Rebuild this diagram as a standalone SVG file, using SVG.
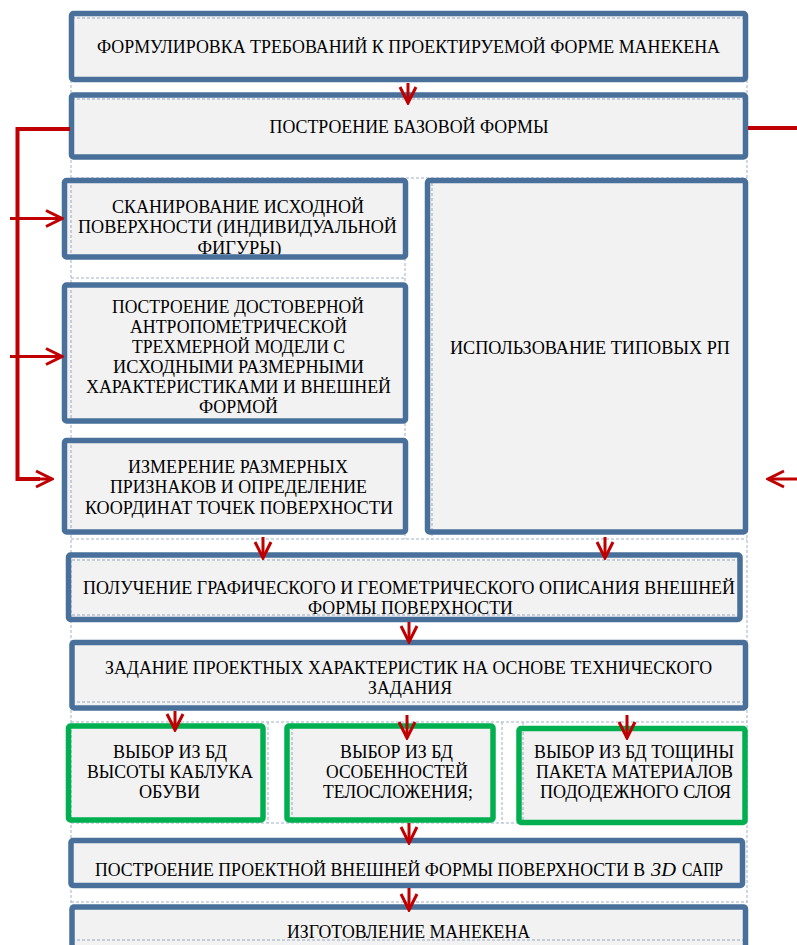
<svg xmlns="http://www.w3.org/2000/svg" width="797" height="945" viewBox="0 0 797 945">
<style>
.grid line{stroke:#9fb2c9;stroke-width:1;stroke-dasharray:3 2;fill:none}
.bf{fill:#000;fill-opacity:0.051}
.bb{fill:none;stroke:#48709a;stroke-width:5.5}
.gb{fill:none;stroke:#00b050;stroke-width:5.5}
text{font-family:"Liberation Serif","Times New Roman",serif;font-size:18px;fill:#000;text-anchor:middle}
.conn path{fill:none;stroke:#c00000}
.ln{stroke-width:4}
.ar{stroke-width:3}
</style>
<defs>
<marker id="ah" viewBox="0 0 20 20" refX="18" refY="10" markerWidth="20" markerHeight="20" markerUnits="userSpaceOnUse" orient="auto">
<path d="M2,2 L18,10 L2,18" fill="none" stroke="#c00000" stroke-width="3" stroke-linejoin="miter"/>
</marker>
</defs>
<rect x="0" y="0" width="797" height="945" fill="#fff"/>
<g class="grid">
<line x1="71" y1="15" x2="71" y2="945"/>
<line x1="747" y1="15" x2="747" y2="945"/>
<line x1="72" y1="18" x2="745" y2="18"/>
<line x1="72" y1="99" x2="745" y2="99"/>
<line x1="71" y1="178" x2="747" y2="178"/>
<line x1="71" y1="278" x2="405" y2="278"/>
<line x1="405" y1="178" x2="405" y2="539"/>
<line x1="432" y1="178" x2="432" y2="539"/>
<line x1="71" y1="539" x2="747" y2="539"/>
<line x1="72" y1="560" x2="740" y2="560"/>
<line x1="72" y1="615" x2="740" y2="615"/>
<line x1="72" y1="702" x2="745" y2="702"/>
<line x1="71" y1="722" x2="747" y2="722"/>
<line x1="71" y1="823" x2="747" y2="823"/>
<line x1="268" y1="722" x2="268" y2="823"/>
<line x1="292" y1="722" x2="292" y2="823"/>
<line x1="502" y1="722" x2="502" y2="823"/>
<line x1="523" y1="722" x2="523" y2="823"/>
<line x1="71" y1="902" x2="747" y2="902"/>
<line x1="72" y1="940" x2="745" y2="940"/>
</g>
<g id="n1">
<rect class="bf" x="71.5" y="13.5" width="674" height="66" rx="2"/>
<rect class="bb" x="71.5" y="13.5" width="674" height="66" rx="2"/>
<text x="408.5" y="53" textLength="623" lengthAdjust="spacingAndGlyphs">ФОРМУЛИРОВКА ТРЕБОВАНИЙ К ПРОЕКТИРУЕМОЙ ФОРМЕ МАНЕКЕНА</text>
</g>
<g id="n2">
<rect class="bf" x="71.5" y="95" width="674" height="62" rx="2"/>
<rect class="bb" x="71.5" y="95" width="674" height="62" rx="2"/>
<text x="409" y="133" textLength="279" lengthAdjust="spacingAndGlyphs">ПОСТРОЕНИЕ БАЗОВОЙ ФОРМЫ</text>
</g>
<g id="n3">
<rect class="bf" x="64.5" y="180.5" width="341" height="76.5" rx="2"/>
<text x="238" y="213" textLength="252" lengthAdjust="spacingAndGlyphs">СКАНИРОВАНИЕ ИСХОДНОЙ</text>
<text x="237.5" y="233" textLength="319" lengthAdjust="spacingAndGlyphs">ПОВЕРХНОСТИ (ИНДИВИДУАЛЬНОЙ</text>
<text x="239.5" y="254" textLength="84" lengthAdjust="spacingAndGlyphs">ФИГУРЫ)</text>
<rect class="bb" x="64.5" y="180.5" width="341" height="76.5" rx="2"/>
</g>
<g id="n4">
<rect class="bf" x="64.5" y="285" width="341" height="136" rx="2"/>
<rect class="bb" x="64.5" y="285" width="341" height="136" rx="2"/>
<text x="238" y="313" textLength="252" lengthAdjust="spacingAndGlyphs">ПОСТРОЕНИЕ ДОСТОВЕРНОЙ</text>
<text x="238.5" y="333" textLength="217" lengthAdjust="spacingAndGlyphs">АНТРОПОМЕТРИЧЕСКОЙ</text>
<text x="238.5" y="353" textLength="213" lengthAdjust="spacingAndGlyphs">ТРЕХМЕРНОЙ МОДЕЛИ С</text>
<text x="238.5" y="373" textLength="251" lengthAdjust="spacingAndGlyphs">ИСХОДНЫМИ РАЗМЕРНЫМИ</text>
<text x="238.5" y="393" textLength="305" lengthAdjust="spacingAndGlyphs">ХАРАКТЕРИСТИКАМИ И ВНЕШНЕЙ</text>
<text x="238.5" y="413" textLength="79" lengthAdjust="spacingAndGlyphs">ФОРМОЙ</text>
</g>
<g id="n5">
<rect class="bf" x="64.5" y="440.5" width="341" height="91.5" rx="2"/>
<rect class="bb" x="64.5" y="440.5" width="341" height="91.5" rx="2"/>
<text x="238" y="473" textLength="220" lengthAdjust="spacingAndGlyphs">ИЗМЕРЕНИЕ РАЗМЕРНЫХ</text>
<text x="238.5" y="493" textLength="257" lengthAdjust="spacingAndGlyphs">ПРИЗНАКОВ И ОПРЕДЕЛЕНИЕ</text>
<text x="239" y="514" textLength="308" lengthAdjust="spacingAndGlyphs">КООРДИНАТ ТОЧЕК ПОВЕРХНОСТИ</text>
</g>
<g id="n6">
<rect class="bf" x="427.5" y="180.5" width="318" height="351.5" rx="2"/>
<rect class="bb" x="427.5" y="180.5" width="318" height="351.5" rx="2"/>
<text x="590" y="354" textLength="280" lengthAdjust="spacingAndGlyphs">ИСПОЛЬЗОВАНИЕ ТИПОВЫХ РП</text>
</g>
<g id="n7">
<rect class="bf" x="68.5" y="555" width="671.5" height="64.5" rx="2"/>
<rect class="bb" x="68.5" y="555" width="671.5" height="64.5" rx="2"/>
<text x="409" y="594" textLength="652" lengthAdjust="spacingAndGlyphs">ПОЛУЧЕНИЕ ГРАФИЧЕСКОГО И ГЕОМЕТРИЧЕСКОГО ОПИСАНИЯ ВНЕШНЕЙ</text>
<text x="410.5" y="614" textLength="205" lengthAdjust="spacingAndGlyphs">ФОРМЫ ПОВЕРХНОСТИ</text>
</g>
<g id="n8">
<rect class="bf" x="72" y="642.5" width="673.5" height="65.5" rx="2"/>
<rect class="bb" x="72" y="642.5" width="673.5" height="65.5" rx="2"/>
<text x="408.5" y="674" textLength="607" lengthAdjust="spacingAndGlyphs">ЗАДАНИЕ ПРОЕКТНЫХ ХАРАКТЕРИСТИК НА ОСНОВЕ ТЕХНИЧЕСКОГО</text>
<text x="410" y="694" textLength="84" lengthAdjust="spacingAndGlyphs">ЗАДАНИЯ</text>
</g>
<g id="n9">
<rect class="bf" x="68.5" y="726" width="194.5" height="94" rx="2"/>
<rect class="gb" x="68.5" y="726" width="194.5" height="94" rx="2"/>
<text x="170" y="758" textLength="114" lengthAdjust="spacingAndGlyphs">ВЫБОР ИЗ БД</text>
<text x="170" y="778" textLength="166" lengthAdjust="spacingAndGlyphs">ВЫСОТЫ КАБЛУКА</text>
<text x="169.5" y="798" textLength="61" lengthAdjust="spacingAndGlyphs">ОБУВИ</text>
</g>
<g id="n10">
<rect class="bf" x="287" y="726" width="206" height="94" rx="2"/>
<rect class="gb" x="287" y="726" width="206" height="94" rx="2"/>
<text x="396.5" y="758" textLength="113" lengthAdjust="spacingAndGlyphs">ВЫБОР ИЗ БД</text>
<text x="397" y="778" textLength="142" lengthAdjust="spacingAndGlyphs">ОСОБЕННОСТЕЙ</text>
<text x="398" y="798" textLength="150" lengthAdjust="spacingAndGlyphs">ТЕЛОСЛОЖЕНИЯ;</text>
</g>
<g id="n11">
<rect class="bf" x="519" y="728.5" width="226" height="94" rx="2"/>
<rect class="gb" x="519" y="728.5" width="226" height="94" rx="2"/>
<text x="634" y="758" textLength="200" lengthAdjust="spacingAndGlyphs">ВЫБОР ИЗ БД ТОЩИНЫ</text>
<text x="634.5" y="778" textLength="197" lengthAdjust="spacingAndGlyphs">ПАКЕТА МАТЕРИАЛОВ</text>
<text x="635.5" y="798" textLength="191" lengthAdjust="spacingAndGlyphs">ПОДОДЕЖНОГО СЛОЯ</text>
</g>
<g id="n12">
<rect class="bf" x="71" y="840.5" width="671.5" height="45" rx="2"/>
<rect class="bb" x="71" y="840.5" width="671.5" height="45" rx="2"/>
<text x="95" y="876" style="text-anchor:start" textLength="550" lengthAdjust="spacingAndGlyphs">ПОСТРОЕНИЕ ПРОЕКТНОЙ ВНЕШНЕЙ ФОРМЫ ПОВЕРХНОСТИ В</text>
<text x="651" y="876" style="text-anchor:start;font-style:italic" textLength="25" lengthAdjust="spacingAndGlyphs">3D</text>
<text x="682" y="876" style="text-anchor:start" textLength="41" lengthAdjust="spacingAndGlyphs">САПР</text>
</g>
<g id="n13">
<rect class="bf" x="72" y="907" width="673.5" height="50" rx="2"/>
<rect class="bb" x="72" y="907" width="673.5" height="50" rx="2"/>
<text x="408.5" y="938" textLength="243" lengthAdjust="spacingAndGlyphs">ИЗГОТОВЛЕНИЕ МАНЕКЕНА</text>
</g>
<g class="conn" id="connectors">
<path class="ar" d="M408,83 V103" marker-end="url(#ah)"/>
<path class="ln" d="M70,129 H17.5 V479 H40"/>
<path class="ar" d="M38,479 H52" marker-end="url(#ah)"/>
<path class="ar" d="M10,218.5 H62" marker-end="url(#ah)"/>
<path class="ar" d="M10,356.5 H62" marker-end="url(#ah)"/>
<path class="ln" d="M748,128 H797"/>
<path class="ar" d="M797,479 H768" marker-end="url(#ah)"/>
<path class="ar" d="M263,537 V558" marker-end="url(#ah)"/>
<path class="ar" d="M605,537 V558" marker-end="url(#ah)"/>
<path class="ar" d="M409,622 V642" marker-end="url(#ah)"/>
<path class="ar" d="M175,711 V730" marker-end="url(#ah)"/>
<path class="ar" d="M407,715 V738" marker-end="url(#ah)"/>
<path class="ar" d="M627,715 V738" marker-end="url(#ah)"/>
<path class="ar" d="M409,823 V843" marker-end="url(#ah)"/>
<path class="ar" d="M409,888 V910" marker-end="url(#ah)"/>
</g>
</svg>
